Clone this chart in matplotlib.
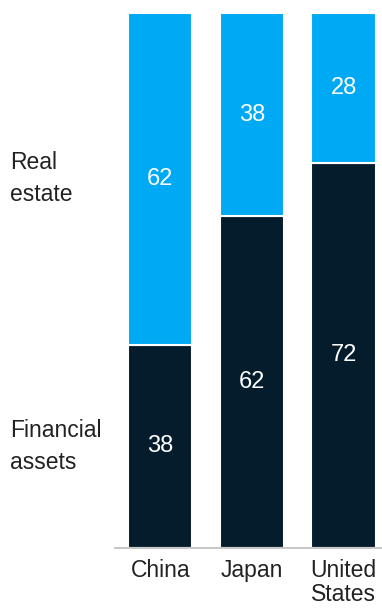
import matplotlib
matplotlib.use("Agg")
import matplotlib.pyplot as plt
import numpy as np

# data (share of wealth, %)
countries = ["China", "Japan", "United\nStates"]
financial = [38, 62, 72]
real_estate = [62, 38, 28]
series_labels = ["Financial\nassets", "Real\nestate"]

dark = "#051C2C"
blue = "#00A9F4"

plt.rcParams["font.family"] = ["Liberation Sans", "DejaVu Sans"]

fig = plt.figure(figsize=(3.82, 6.09), dpi=100)
ax = fig.add_axes([115 / 382, 61 / 609, 267 / 382, 535 / 609])

x = np.arange(len(countries))
w = 0.7
fin = np.array(financial)
rea = np.array(real_estate)

ax.bar(x, fin, w, color=dark, edgecolor="white", linewidth=1.5)
ax.bar(x, rea, w, bottom=fin, color=blue, edgecolor="white", linewidth=1.5)

# values inside segments
for i in range(len(x)):
    ax.text(x[i], fin[i] / 2, str(fin[i]), ha="center", va="center",
            color="white", fontsize=17)
    ax.text(x[i], fin[i] + rea[i] / 2, str(rea[i]), ha="center", va="center",
            color="white", fontsize=17)

ax.set_xlim(-0.494, 2.42)
ax.set_ylim(0, 100)
ax.set_xticks(x)
ax.set_xticklabels(countries, fontsize=16.5, color="#222222", linespacing=1.05)
ax.tick_params(axis="x", length=0, pad=8)
ax.set_yticks([])
for s in ["top", "right", "left"]:
    ax.spines[s].set_visible(False)
ax.spines["bottom"].set_color("#c8c8c8")
ax.spines["bottom"].set_linewidth(1.5)

# series labels on the left, aligned with China segments
ax_to_fig = lambda v: (61 + v / 100 * 535) / 609
fig.text(10 / 382, ax_to_fig(fin[0] / 2), series_labels[0], ha="left", va="center",
         fontsize=16.5, color="#222222", linespacing=1.5)
fig.text(10 / 382, ax_to_fig(fin[0] + rea[0] / 2), series_labels[1], ha="left", va="center",
         fontsize=16.5, color="#222222", linespacing=1.5)

fig.savefig("out.png", dpi=100)
